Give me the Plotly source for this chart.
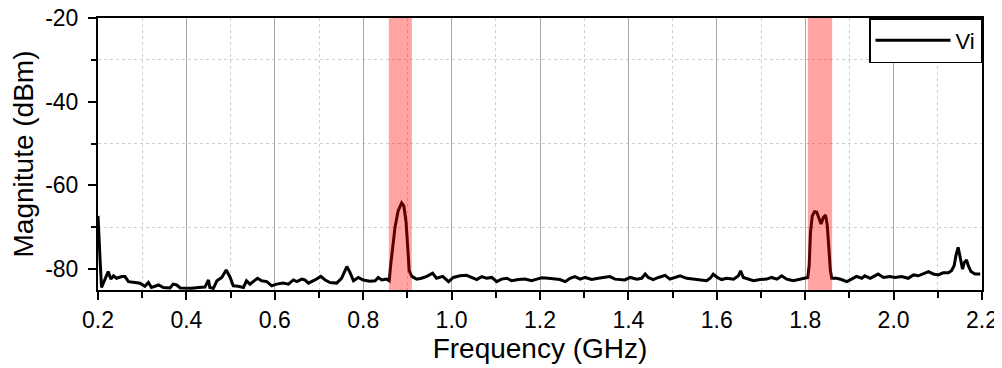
import plotly.graph_objects as go

# ---- data ----
freq_ghz = [
    0.200, 0.202, 0.205, 0.208, 0.216, 0.223, 0.229, 0.235, 0.242, 0.254, 0.261, 0.269,
    0.284, 0.295, 0.306, 0.314, 0.321, 0.337, 0.348, 0.363, 0.370, 0.378, 0.386, 0.397,
    0.412, 0.427, 0.442, 0.450, 0.453, 0.461, 0.469, 0.480, 0.490, 0.499, 0.506, 0.517,
    0.529, 0.536, 0.544, 0.551, 0.561, 0.570, 0.582, 0.593,
    0.604, 0.619, 0.631, 0.642, 0.650, 0.661, 0.668, 0.676, 0.691, 0.704, 0.714, 0.725,
    0.740, 0.751, 0.763, 0.770, 0.778, 0.789, 0.800, 0.815, 0.827, 0.834, 0.842, 0.853,
    0.859, 0.862, 0.867, 0.872, 0.879, 0.887, 0.892, 0.897, 0.901, 0.904, 0.910, 0.921,
    0.932, 0.944, 0.957, 0.966, 0.980,
    0.993, 1.004, 1.019, 1.034, 1.045, 1.057, 1.068, 1.079, 1.091, 1.102, 1.113, 1.125,
    1.136, 1.151, 1.166, 1.181, 1.193, 1.204, 1.219, 1.234, 1.245, 1.257, 1.268, 1.279,
    1.291, 1.302, 1.317, 1.332, 1.347, 1.358, 1.370, 1.381,
    1.392, 1.404, 1.419, 1.430, 1.438, 1.445, 1.456, 1.468, 1.483, 1.494, 1.505, 1.517,
    1.532, 1.547, 1.562, 1.577, 1.585, 1.592, 1.601, 1.611, 1.622, 1.638, 1.649, 1.654,
    1.660, 1.672, 1.683, 1.698, 1.713, 1.724, 1.736, 1.747, 1.758, 1.773,
    1.788, 1.800, 1.806, 1.809, 1.812, 1.816, 1.821, 1.826, 1.831, 1.836, 1.841, 1.846,
    1.850, 1.854, 1.857, 1.860, 1.871, 1.882, 1.894, 1.905, 1.916, 1.928, 1.935, 1.947,
    1.954, 1.965, 1.977, 1.992, 2.003, 2.018, 2.033, 2.045, 2.056, 2.067, 2.079, 2.090,
    2.101, 2.112, 2.124, 2.131, 2.137, 2.141, 2.146, 2.151, 2.156, 2.160, 2.165, 2.169,
    2.175, 2.184, 2.196,
]
vi_dbm = [
    -67.3, -72.8, -78.4, -84.4, -82.4, -80.6, -82.4, -81.6, -82.2, -81.8, -81.8, -83.0,
    -83.2, -83.4, -84.1, -83.2, -84.4, -83.8, -84.4, -84.5, -83.6, -83.8, -84.5, -84.6,
    -84.6, -84.4, -84.3, -82.6, -84.4, -84.6, -82.8, -82.0, -80.2, -82.0, -84.0, -84.1,
    -84.4, -82.8, -83.6, -83.0, -82.2, -82.8, -83.0, -84.0,
    -83.6, -83.35, -83.6, -82.6, -83.0, -82.4, -82.6, -83.35, -82.6, -81.75, -82.6, -83.2,
    -83.35, -82.2, -79.4, -80.8, -82.8, -82.0, -82.6, -82.9, -82.8, -82.0, -82.6, -82.4,
    -82.8, -79.2, -74.4, -70.0, -66.1, -64.2, -64.9, -68.8, -75.2, -80.4, -81.75, -82.4,
    -82.2, -81.75, -81.0, -82.2, -81.75,
    -83.0, -82.0, -81.6, -81.5, -82.0, -82.5, -81.8, -82.2, -82.0, -83.0, -82.4, -82.2,
    -82.8, -82.5, -82.4, -82.8, -82.4, -82.1, -82.2, -82.4, -82.5, -83.0, -82.2, -81.8,
    -82.4, -82.0, -82.5, -82.2, -82.0, -81.8, -82.4, -82.5,
    -82.6, -82.0, -82.4, -82.2, -81.2, -82.0, -82.5, -82.0, -81.5, -82.4, -82.0, -81.6,
    -82.2, -82.4, -82.5, -82.8, -82.2, -81.2, -82.0, -82.5, -82.2, -82.4, -81.6, -80.4,
    -82.0, -82.5, -82.8, -82.5, -82.4, -82.0, -82.4, -81.6, -82.4, -82.8,
    -82.4, -82.0, -82.0, -79.2, -71.2, -67.3, -66.3, -66.4, -67.7, -69.2, -67.7, -67.1,
    -69.6, -75.2, -80.4, -82.2, -82.2, -82.5, -83.0, -82.4, -81.75, -82.2, -81.6, -82.2,
    -81.8, -81.2, -82.0, -81.8, -82.0, -81.8, -82.2, -81.4, -81.6, -81.2, -80.6, -81.2,
    -81.4, -80.9, -80.9, -80.4, -79.2, -76.8, -74.8, -77.4, -80.0, -78.4, -77.8, -79.2,
    -80.6, -81.2, -81.2,
]
band_start_ghz = [0.858, 1.806]
band_end_ghz = [0.910, 1.861]
y_tick_values = [-80, -60, -40, -20]
y_tick_labels = ["-80", "-60", "-40", "-20"]
y_minor_values = [-70, -50, -30]
series_name = "Vi"
x_title = "Frequency (GHz)"
y_title = "Magnitute (dBm)"

FONT = "Liberation Sans, Arial, sans-serif"

fig = go.Figure()
fig.add_trace(go.Scatter(
    x=freq_ghz, y=vi_dbm, mode="lines", name=series_name,
    line=dict(color="black", width=3),
))

for x0, x1 in zip(band_start_ghz, band_end_ghz):
    fig.add_vrect(x0=x0, x1=x1, fillcolor="rgba(255,0,0,0.36)", line_width=0, layer="above")

# the page puts the figure 8px in from the top-left corner
fig.update_layout(
    width=994, height=360,
    margin=dict(l=90, r=20, t=10, b=78),
    paper_bgcolor="white", plot_bgcolor="white",
    font=dict(family=FONT, size=23, color="black"),
    showlegend=True,
    legend=dict(
        x=1, y=1, xanchor="right", yanchor="top",
        bordercolor="black", borderwidth=1.5, bgcolor="white",
        font=dict(family=FONT, size=22, color="black"),
        itemwidth=75, tracegroupgap=0,
    ),
)

fig.update_xaxes(
    range=[0.2, 2.2], tick0=0.2, dtick=0.2, tickformat=".1f",
    showline=True, linecolor="black", linewidth=2, mirror=True,
    ticks="outside", ticklen=8, tickwidth=1.5, tickcolor="black",
    ticklabeloverflow="allow",
    showgrid=True, gridcolor="#a8a8a8", gridwidth=1,
    zeroline=False, automargin=False,
    minor=dict(dtick=0.1, tick0=0.2, ticks="outside", ticklen=6, tickwidth=1.5,
               tickcolor="black", showgrid=True, gridcolor="#cfcfcf", griddash="dot", gridwidth=1),
    title=dict(text=x_title, font=dict(family=FONT, size=28), standoff=3),
    tickfont=dict(family=FONT, size=23),
)
fig.update_yaxes(
    range=[-85, -20], tickvals=y_tick_values, ticktext=y_tick_labels,
    showline=True, linecolor="black", linewidth=2, mirror=True,
    ticks="outside", ticklen=8, tickwidth=1.5, tickcolor="black",
    ticklabelstandoff=5, ticklabeloverflow="allow",
    showgrid=False, zeroline=False, automargin=False,
    minor=dict(tickvals=y_minor_values, ticks="outside", ticklen=5, tickwidth=1.5,
               tickcolor="black", showgrid=True, gridcolor="#cfcfcf", griddash="dot", gridwidth=1),
    title=dict(text=y_title, font=dict(family=FONT, size=28), standoff=3),
    tickfont=dict(family=FONT, size=23),
)

fig.write_html("out.html")
